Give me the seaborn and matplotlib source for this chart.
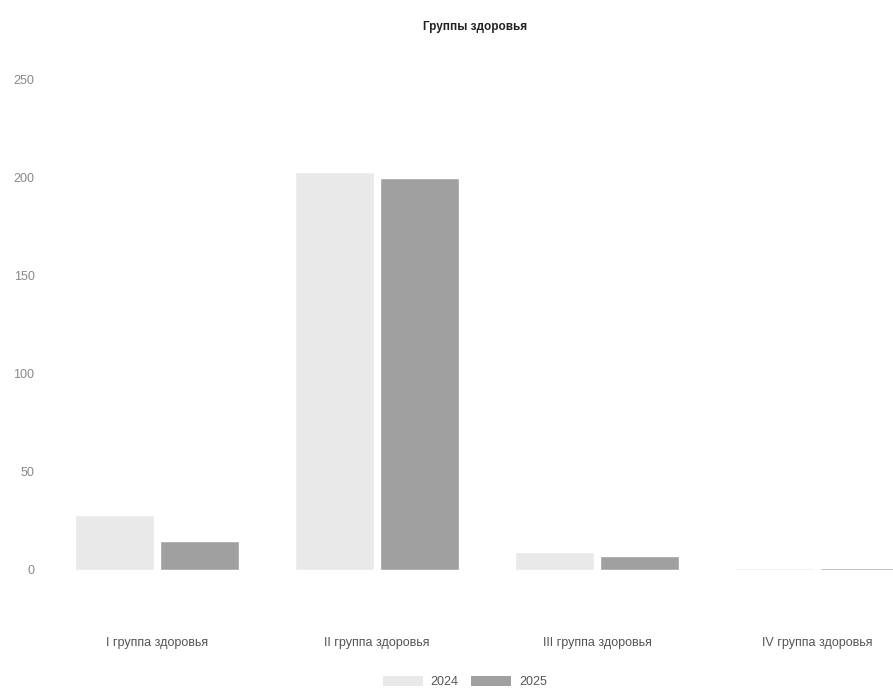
import matplotlib
matplotlib.use("Agg")
import matplotlib.pyplot as plt
import seaborn as sns
import pandas as pd
from matplotlib.patches import Patch

categories = ["I группа здоровья", "II группа здоровья", "III группа здоровья", "IV группа здоровья"]
years = ["2024", "2025"]
values_2024 = [28, 203, 9, 1]
values_2025 = [15, 200, 7, 1]
yticks = [0, 50, 100, 150, 200, 250]

df = pd.DataFrame({
    "cat": categories * 2,
    "year": [years[0]] * 4 + [years[1]] * 4,
    "val": values_2024 + values_2025,
})

sns.set_theme(style="white")
plt.rcParams["font.family"] = ["Liberation Sans", "DejaVu Sans"]

fig = plt.figure(figsize=(8.93, 6.89), dpi=100)
ax = fig.add_axes([47 / 893, 1 - 570 / 689, 880 / 893, 490 / 689])

palette = {"2024": "#e9e9e9", "2025": "#a0a0a0"}
sns.barplot(data=df, x="cat", y="val", hue="year", palette=palette,
            width=0.78, gap=0.08, ax=ax, legend=False, saturation=1)

ax.set_ylim(0, 250)
ax.set_yticks(yticks)
ax.set_xlabel("")
ax.set_ylabel("")
for s in ax.spines.values():
    s.set_visible(False)
ax.tick_params(axis="y", colors="#888888", labelsize=9, length=0, pad=9)
ax.tick_params(axis="x", colors="#555555", labelsize=9, length=0, pad=48)

fig.text(475 / 893, 1 - 27 / 689, "Группы здоровья", ha="center", va="center",
         fontsize=8.5, fontweight="bold", color="#222222")

handles = [Patch(facecolor=palette[y], edgecolor="none") for y in years]
fig.legend(handles, years, loc="center", bbox_to_anchor=(465 / 893, 1 - 682 / 689),
           ncol=2, frameon=False, fontsize=9, handlelength=3.2, handleheight=0.9,
           columnspacing=1.0, handletextpad=0.6, labelcolor="#555555")

fig.savefig("out.png", dpi=100)
